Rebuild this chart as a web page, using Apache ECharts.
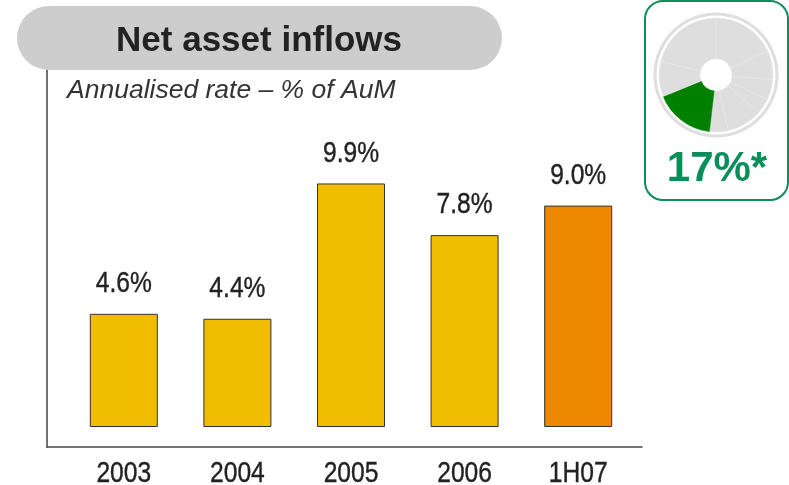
<!DOCTYPE html>
<html>
<head>
<meta charset="utf-8">
<title>Net asset inflows</title>
<style>
  html, body { margin: 0; padding: 0; background: #fff; }
  #chart { width: 789px; height: 485px; }
</style>
</head>
<body>
<div id="chart"></div>
<script src="https://cdn.jsdelivr.net/npm/echarts@6/dist/echarts.min.js"></script>
<script>
var categories = ['2003', '2004', '2005', '2006', '1H07']
var inflows = [4.6, 4.4, 9.9, 7.8, 9.0]
var barColors = ['#f0bd00', '#f0bd00', '#f0bd00', '#f0bd00', '#ee8800']
// pie slices, % of the circle, clockwise from 12 o'clock
var pieShares = [18, 8.3, 5.8, 4.4, 10, 5.3, 17, 10, 21.1]
var highlightSlice = 6
var titleText = 'Net asset inflows'
var subtitleText = 'Annualised rate \u2013 % of AuM'
var badgeText = '17%*'

var sansFont = '"Liberation Sans", Arial, sans-serif'
// no narrow face installed, so the chart labels are squeezed horizontally
var squeezedFont = '30px "Liberation Sans", Arial, sans-serif'
var squeeze = 0.82

function squeezedText (x, y, text) {
  return {
    type: 'text',
    x: x,
    y: y,
    scaleX: squeeze,
    style: {
      text: text,
      font: squeezedFont,
      fill: '#222',
      stroke: '#222',
      lineWidth: 0.4,
      align: 'center',
      verticalAlign: 'middle'
    }
  }
}

var chart = echarts.init(document.getElementById('chart'))
chart.setOption({
  animation: false,
  backgroundColor: '#fff',
  title: [
    {
      text: titleText,
      left: 259, top: 24, padding: 0, textAlign: 'center', z: 20,
      textStyle: { fontFamily: sansFont, fontSize: 35, fontWeight: 'bold', color: '#222' }
    },
    {
      text: subtitleText,
      left: 67, top: 77, padding: 0, z: 20,
      textStyle: { fontFamily: sansFont, fontSize: 26.5, fontStyle: 'italic', fontWeight: 'normal', color: '#333' }
    },
    {
      text: badgeText,
      left: 717, top: 148, padding: 0, textAlign: 'center', z: 20,
      textStyle: { fontFamily: sansFont, fontSize: 42, fontWeight: 'bold', color: '#0a8f5a' }
    }
  ],
  graphic: [
    {
      type: 'rect', z: 10,
      shape: { x: 17, y: 6, width: 485, height: 64, r: 32 },
      style: { fill: '#cdcdcd' }
    },
    {
      type: 'rect', z: 1,
      shape: { x: 645, y: 1, width: 143, height: 199, r: 18 },
      style: { fill: '#fff', stroke: '#0a8f5a', lineWidth: 2 }
    }
  ],
  grid: [
    // frame: carries only the two axis lines
    { left: 47, top: 70, width: 595, height: 377, outerBoundsMode: 'none' },
    // bars: 24.6 px per point, sitting above the frame's base line
    { left: 67, top: 181, width: 568, height: 246, outerBoundsMode: 'none' }
  ],
  xAxis: [
    {
      gridIndex: 0, type: 'value', min: 0, max: 1,
      splitLine: { show: false }, axisTick: { show: false }, axisLabel: { show: false },
      axisLine: { show: true, lineStyle: { color: '#444', width: 1.5 } }
    },
    {
      gridIndex: 1, type: 'category', data: categories,
      axisLine: { show: false }, axisTick: { show: false }, axisLabel: { show: false }
    }
  ],
  yAxis: [
    {
      gridIndex: 0, type: 'value', min: 0, max: 1,
      splitLine: { show: false }, axisTick: { show: false }, axisLabel: { show: false },
      axisLine: { show: true, lineStyle: { color: '#444', width: 1.5 } }
    },
    {
      gridIndex: 1, type: 'value', min: 0, max: 10, show: false
    }
  ],
  series: [
    {
      type: 'bar',
      xAxisIndex: 1,
      yAxisIndex: 1,
      barWidth: 68,
      data: inflows.map(function (v, i) {
        return { value: v, itemStyle: { color: barColors[i] } }
      }),
      itemStyle: { borderColor: '#333', borderWidth: 1 }
    },
    {
      // value labels above the bars and category labels below the frame
      type: 'custom',
      xAxisIndex: 1,
      yAxisIndex: 1,
      silent: true,
      clip: false,
      z: 6,
      data: inflows.map(function (v, i) { return [i, v] }),
      renderItem: function (params, api) {
        var i = api.value(0)
        var top = api.coord([i, api.value(1)])
        var base = api.coord([i, 0])
        return {
          type: 'group',
          children: [
            squeezedText(top[0], top[1] - 30, api.value(1).toFixed(1) + '%'),
            squeezedText(base[0], base[1] + 47, categories[i])
          ]
        }
      }
    },
    {
      type: 'pie',
      silent: true,
      z: 5,
      center: [716, 75],
      radius: [59.5, 62.5],
      label: { show: false },
      data: [{ value: 1, itemStyle: { color: '#dedede' } }]
    },
    {
      type: 'pie',
      silent: true,
      z: 5,
      center: [716, 75],
      radius: [16, 57],
      startAngle: 90,
      label: { show: false },
      data: pieShares.map(function (v, i) {
        return {
          value: v,
          itemStyle: {
            color: i === highlightSlice ? '#008000' : '#dedede',
            borderColor: i === highlightSlice ? '#008000' : '#e8e8e8',
            borderWidth: 0.5
          }
        }
      })
    }
  ]
})
</script>
</body>
</html>
